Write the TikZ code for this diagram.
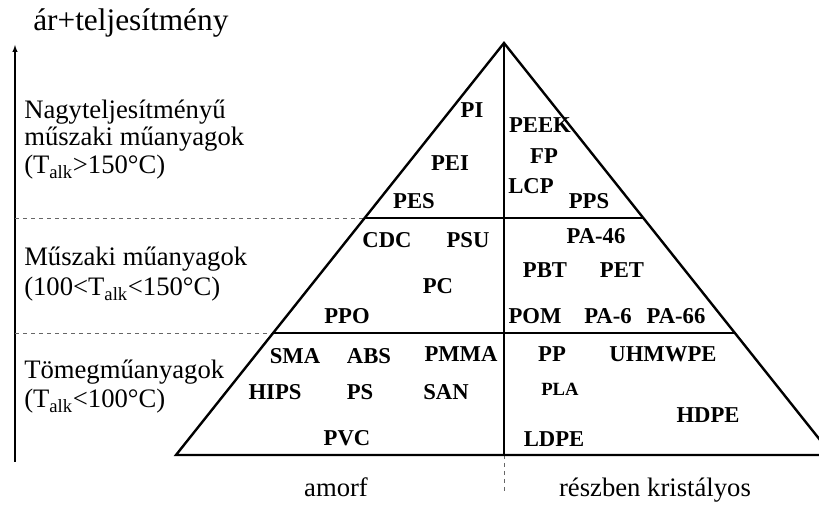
\documentclass[tikz,border=0pt]{standalone}
\usepackage{fontspec}
\setmainfont{Liberation Serif}
\usepackage{tikz}
\usetikzlibrary{arrows, positioning, calc}
\tikzstyle{plastic} = [font=\bfseries\fontsize{17}{17}\selectfont, inner sep=0pt]
\tikzstyle{smallplastic} = [font=\bfseries\fontsize{14}{14}\selectfont, inner sep=0pt]
\tikzstyle{category} = [font=\fontsize{20}{21}\selectfont, anchor=base west, inner sep=0pt]
\tikzstyle{edge} = [line width=1.8pt]
\tikzstyle{guide} = [dashed, black!60, line width=0.7pt]
\tikzstyle{axis} = [line width=0.8pt, ->, >=latex]

\begin{document}
\begin{tikzpicture}[x=0.75pt, y=-0.75pt]
\useasboundingbox (0,0) rectangle (819,506);
\clip (0,0) rectangle (819,506);

% Pyramid corners
\coordinate (apex) at (504,43);
\coordinate (baseL) at (176,455);
\coordinate (baseR) at (832,455);
\coordinate (baseM) at (504,455);
\coordinate (tail) at (504,493);
\coordinate (hiL) at ($(apex)!0.4248!(baseL)$);
\coordinate (hiR) at ($(apex)!0.4248!(baseR)$);
\coordinate (loL) at ($(apex)!0.7039!(baseL)$);
\coordinate (loR) at ($(apex)!0.7039!(baseR)$);

% Axis
\coordinate (axisbot) at (15,462);
\coordinate (axistop) at (15,45);
\draw [axis] (axisbot) -- (axistop);
\node (title) [category, font=\fontsize{23.5}{24}\selectfont] at (33,31) {ár+teljesítmény};

% Level borders
\draw [guide] (axistop |- hiL) -- (hiL);
\draw [guide] (axistop |- loL) -- (loL);
\draw [guide] (baseM) -- (tail);

% Pyramid
\draw [edge] (baseL) -- (apex) -- (baseR) -- cycle;
\draw [edge] (apex) -- (baseM);
\draw [edge] (hiL) -- (hiR);
\draw [edge] (loL) -- (loR);

% High performance
\node (cat1a) [category] at (24,119) {Nagyteljesítményű};
\node (cat1b) [category] at (24,146) {műszaki műanyagok};
\node (cat1c) [category] at (24,174) {(T\textsubscript{alk}>150°C)};
\node (pi) [plastic] at (472,110) {PI};
\node (pei) [plastic] at (450,163) {PEI};
\node (pes) [plastic] at (414,201) {PES};
\node (peek) [plastic] at (540,125) {PEEK};
\node (fp) [plastic] at (544,156) {FP};
\node (lcp) [plastic] at (531,186) {LCP};
\node (pps) [plastic] at (589,201) {PPS};

% Engineering
\node (cat2a) [category] at (24,266) {Műszaki műanyagok};
\node (cat2b) [category] at (24,296) {(100<T\textsubscript{alk}<150°C)};
\node (cdc) [plastic] at (387,240) {CDC};
\node (psu) [plastic] at (468,240) {PSU};
\node (pc) [plastic] at (438,286) {PC};
\node (ppo) [plastic] at (347,316) {PPO};
\node (pa46) [plastic] at (596,236) {PA-46};
\node (pbt) [plastic] at (545,270) {PBT};
\node (pet) [plastic] at (622,270) {PET};
\node (pom) [plastic] at (535,316) {POM};
\node (pa6) [plastic] at (608,316) {PA-6};
\node (pa66) [plastic] at (676,316) {PA-66};

% Commodity
\node (cat3a) [category] at (24,379) {Tömegműanyagok};
\node (cat3b) [category] at (24,408) {(T\textsubscript{alk}<100°C)};
\node (sma) [plastic] at (295,356) {SMA};
\node (abs) [plastic] at (369,356) {ABS};
\node (pmma) [plastic] at (461,354) {PMMA};
\node (hips) [plastic] at (275,392) {HIPS};
\node (ps) [plastic] at (360,392) {PS};
\node (san) [plastic] at (446,392) {SAN};
\node (pvc) [plastic] at (347,438) {PVC};
\node (pp) [plastic] at (552,354) {PP};
\node (uhmwpe) [plastic] at (663,354) {UHMWPE};
\node (pla) [smallplastic] at (560,389) {PLA};
\node (hdpe) [plastic] at (708,415) {HDPE};
\node (ldpe) [plastic] at (554,439) {LDPE};

% Structure
\node (amorf) [category, anchor=base] at (336,497) {amorf};
\node (kristaly) [category, anchor=base] at (655,497) {részben kristályos};

\end{tikzpicture}
\end{document}
